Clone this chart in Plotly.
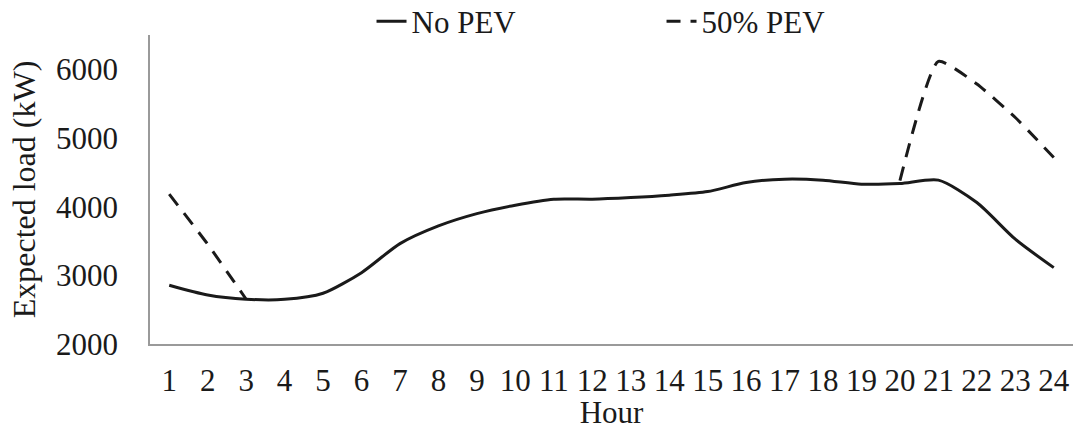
import plotly.graph_objects as go

hours = list(range(1, 25))
hour_labels = [str(h) for h in hours]
no_pev = [2856, 2714, 2652, 2650, 2739, 3039, 3462, 3720, 3899, 4022, 4109, 4109,
          4133, 4168, 4220, 4351, 4401, 4386, 4328, 4337, 4386, 4060, 3526, 3112]
pev50 = [4182, 3453, 2652, None, None, None, None, None, None, None, None, None,
         None, None, None, None, None, None, None, 4380, 6115, 5786, 5299, 4716]
y_ticks = [2000, 3000, 4000, 5000, 6000]

FONT = "Liberation Serif, Times New Roman, serif"
INK = "#1a1a1a"

fig = go.Figure()
fig.add_trace(go.Scatter(
    x=hours, y=no_pev, name="No PEV", mode="lines",
    line=dict(color=INK, width=3, shape="spline", smoothing=0.7),
))
fig.add_trace(go.Scatter(
    x=hours, y=pev50, name="50% PEV", mode="lines", connectgaps=False,
    line=dict(color=INK, width=3, dash="14px,10px", shape="spline", smoothing=0.5),
))

fig.update_layout(
    width=1073, height=430,
    margin=dict(l=150, r=0, t=35, b=86, autoexpand=False),
    paper_bgcolor="white", plot_bgcolor="white",
    font=dict(family=FONT, size=31, color=INK),
    showlegend=True,
    legend=dict(
        orientation="h", x=0.24, xanchor="left",
        yref="container", y=0.95, yanchor="middle",
        entrywidth=245, entrywidthmode="pixels",
        font=dict(family=FONT, size=31, color=INK),
        bgcolor="rgba(0,0,0,0)", borderwidth=0,
    ),
    xaxis=dict(
        range=[0.5, 24.5], tickmode="array", tickvals=hours, ticktext=hour_labels,
        showgrid=False, zeroline=False, showline=True, linecolor="#9a9a9a", linewidth=1.5,
        ticks="", ticklabelstandoff=8, automargin=False,
        title=dict(text="Hour", font=dict(family=FONT, size=31, color=INK), standoff=0),
    ),
    yaxis=dict(
        range=[2000, 6500], tickmode="array", tickvals=y_ticks,
        showgrid=False, zeroline=False, showline=True, linecolor="#9a9a9a", linewidth=1.5,
        ticks="", ticklabelstandoff=24, automargin=False,
        title=dict(text="Expected load (kW)", font=dict(family=FONT, size=32, color=INK), standoff=11),
    ),
)

fig.write_html(
    "out.html",
    config={"displayModeBar": False},
    post_script="document.body.style.margin='0';document.body.style.padding='0';",
)
